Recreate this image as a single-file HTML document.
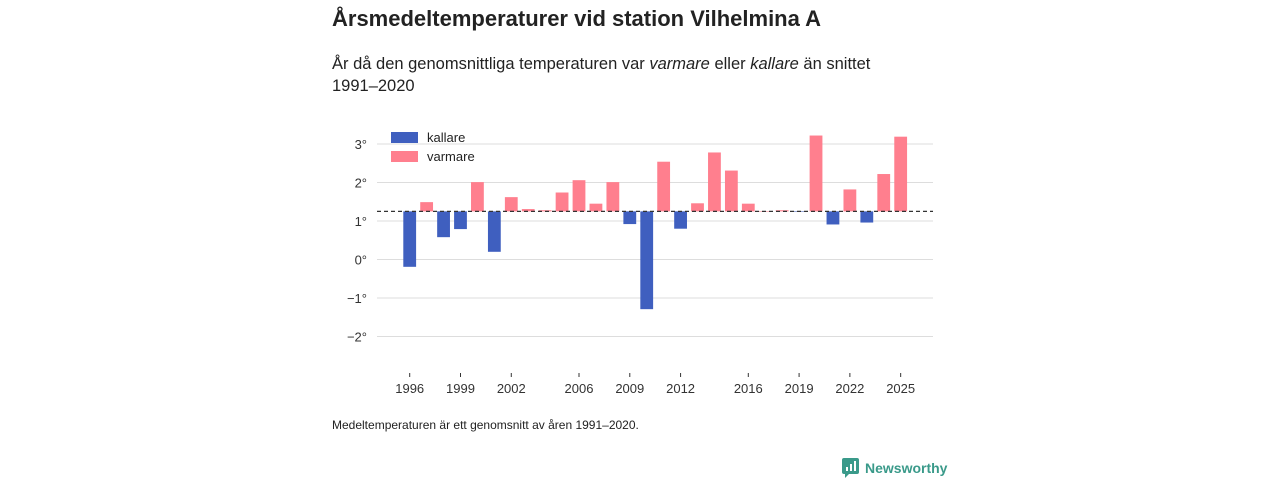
<!DOCTYPE html>
<html><head><meta charset="utf-8"><style>
body{margin:0;width:1280px;height:480px;background:#fff;font-family:"Liberation Sans",sans-serif;color:#222;position:relative;overflow:hidden}
.t{position:absolute;left:332px;top:6px;font-size:22px;font-weight:bold;margin:0}
.s{position:absolute;left:332px;top:53px;font-size:16.5px;line-height:22px;width:565px}
.f{position:absolute;left:332px;top:418px;font-size:12px}
.logo{position:absolute;left:842px;top:458px;font-size:14px;color:#3a9a8a;font-weight:bold;display:flex;align-items:center;gap:6px}
</style></head><body>
<h1 class="t">Årsmedeltemperaturer vid station Vilhelmina A</h1>
<div class="s">År då den genomsnittliga temperaturen var <i>varmare</i> eller <i>kallare</i> än snittet 1991–2020</div>
<svg id="c" width="1280" height="480" style="position:absolute;left:0;top:0"></svg>
<div class="f">Medeltemperaturen är ett genomsnitt av åren 1991–2020.</div>
<div class="logo"><svg width="17" height="20" viewBox="0 0 17 20"><rect x="0" y="0" width="17" height="16" rx="2" fill="#3a9a8a"/><path d="M3 16 L3 20 L7 16Z" fill="#3a9a8a"/><rect x="4" y="9" width="2" height="4" fill="#fff"/><rect x="8" y="6" width="2" height="7" fill="#fff"/><rect x="12" y="3" width="2" height="10" fill="#fff"/></svg><span>Newsworthy</span></div>
<script>
const years=[1996,1997,1998,1999,2000,2001,2002,2003,2004,2005,2006,2007,2008,2009,2010,2011,2012,2013,2014,2015,2016,2017,2018,2019,2020,2021,2022,2023,2024,2025];
const temps=[-0.19,1.49,0.58,0.79,2.01,0.2,1.62,1.31,1.28,1.74,2.06,1.45,2.01,0.92,-1.29,2.54,0.8,1.46,2.78,2.31,1.45,1.26,1.28,1.24,3.22,0.91,1.82,0.96,2.22,3.19];
const baseline=1.25;
const yTicks=[3,2,1,0,-1,-2];
const yLabels=["3°","2°","1°","0°","−1°","−2°"];
const xTicks=[1996,1999,2002,2006,2009,2012,2016,2019,2022,2025];
const svg=document.getElementById('c');const NS='http://www.w3.org/2000/svg';
const y=v=>259.5-38.5*v;
const x=yr=>409.7+16.93*(yr-1996);
function mk(t,a){const e=document.createElementNS(NS,t);for(const k in a)e.setAttribute(k,a[k]);svg.appendChild(e);return e;}
yTicks.forEach((v,i)=>{
 const g=mk('line',{x1:377,x2:933,y1:y(v),y2:y(v),stroke:'#ddd','stroke-width':1});
 
 
 const t=mk('text',{x:367,y:y(v)+5,'text-anchor':'end','font-size':13,fill:'#333','font-family':'Liberation Sans'});t.textContent=yLabels[i];
 
 
});
years.forEach((yr,i)=>{
 const v=temps[i];const warm=v>=baseline;
 const top=Math.min(y(v),y(baseline)),h=Math.abs(y(v)-y(baseline));
 const r=mk('rect',{x:x(yr)-6.4,y:top,width:12.8,height:Math.max(h,0.5),fill:warm?'#ff7f8e':'#3f5fbf'});
 
 
});
const bl=mk('line',{x1:377,x2:933,y1:y(baseline),y2:y(baseline),stroke:'#333','stroke-width':1.2,'stroke-dasharray':'4,3'});


xTicks.forEach(yr=>{
 const l=mk('line',{x1:x(yr),x2:x(yr),y1:373,y2:377,stroke:'#333'});
 
 
 const t=mk('text',{x:x(yr),y:393,'text-anchor':'middle','font-size':13,fill:'#333','font-family':'Liberation Sans'});t.textContent=yr;
 
 
});
[['kallare','#3f5fbf',137],['varmare','#ff7f8e',156]].forEach(d=>{
 const r=mk('rect',{x:391,y:d[2]-5,width:27,height:11,fill:d[1]});
 
 
 const t=mk('text',{x:427,y:d[2]+5,'font-size':13,fill:'#222','font-family':'Liberation Sans'});t.textContent=d[0];
 
 
});
</script>
</body></html>
